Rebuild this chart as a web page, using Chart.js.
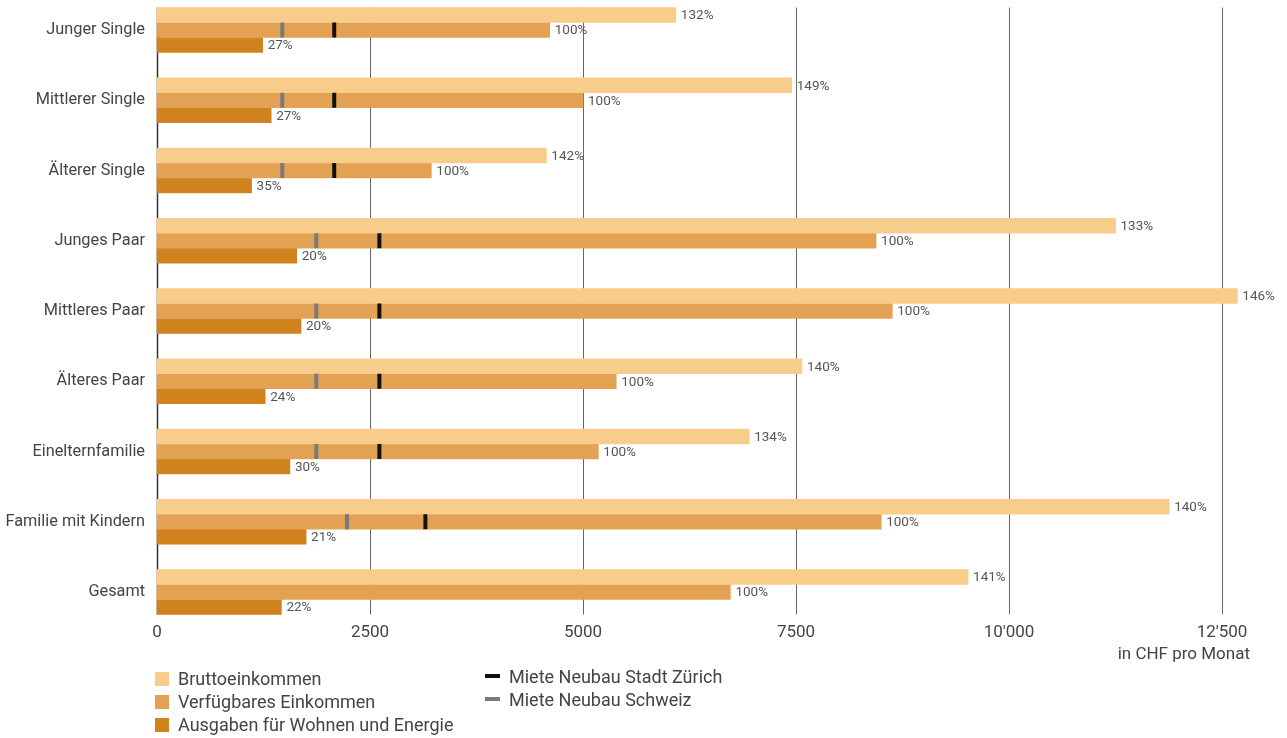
<!DOCTYPE html>
<html>
<head>
<meta charset="utf-8">
<script src="https://cdn.jsdelivr.net/npm/chart.js@4.4.1/dist/chart.umd.min.js"></script>
<style>
  body { margin: 0; background: #fff; font-family: Roboto, "Liberation Sans", sans-serif; color: #444; }
  #wrap { position: relative; width: 1287px; height: 738px; }
  .leg { position: absolute; font-size: 18px; line-height: 23px; }
  .leg div { height: 23px; white-space: nowrap; }
  .sq { display: inline-block; width: 14px; height: 14px; vertical-align: -1px; margin-right: 9px; }
  .ln { display: inline-block; width: 15px; height: 4px; vertical-align: 5px; margin-right: 9px; }
</style>
</head>
<body>
<div id="wrap">
  <canvas id="incomeChart" width="1287" height="738"></canvas>
  <div class="leg" style="left:155px; top:667px;">
    <div><span class="sq" style="background:#f8cc8a"></span>Bruttoeinkommen</div>
    <div><span class="sq" style="background:#e3a253"></span>Verfügbares Einkommen</div>
    <div><span class="sq" style="background:#d0821f"></span>Ausgaben für Wohnen und Energie</div>
  </div>
  <div class="leg" style="left:485px; top:665px;">
    <div><span class="ln" style="background:#111"></span>Miete Neubau Stadt Zürich</div>
    <div><span class="ln" style="background:#7a7a7a"></span>Miete Neubau Schweiz</div>
  </div>
</div>
<script>
// Haushaltstypen
var categories = ['Junger Single', 'Mittlerer Single', 'Älterer Single', 'Junges Paar', 'Mittleres Paar',
                  'Älteres Paar', 'Einelternfamilie', 'Familie mit Kindern', 'Gesamt'];

// CHF pro Monat
var brutto     = [6090, 7450, 4570, 11250, 12680, 7570, 6950, 11880, 9520];
var verfuegbar = [4610, 5000, 3220, 8440, 8630, 5390, 5180, 8500, 6730];
var ausgaben   = [1240, 1340, 1110, 1640, 1690, 1270, 1560, 1750, 1460];

// Prozent vom verfügbaren Einkommen
var bruttoPct   = [132, 149, 142, 133, 146, 140, 134, 140, 141];
var verfPct     = [100, 100, 100, 100, 100, 100, 100, 100, 100];
var ausgabenPct = [27, 27, 35, 20, 20, 24, 30, 21, 22];

// Mieten Neubau (Gesamt ohne Markierung)
var mieteZuerich = [2080, 2080, 2080, 2610, 2610, 2610, 2610, 3150, null];
var mieteSchweiz = [1470, 1470, 1470, 1870, 1870, 1870, 1870, 2230, null];

var tickLabels = ['0', '2500', '5000', '7500', "10'000", "12'500"];

var BAR = 15;

function markerPoints(values) {
    var pts = [];
    for (var i = 0; i < values.length; i++) {
        if (values[i] !== null) pts.push({ x: values[i], y: categories[i] });
    }
    return pts;
}

function markerDataset(label, values, color) {
    return {
        type: 'line',
        label: label,
        data: markerPoints(values),
        showLine: false,
        clip: false,
        pointStyle: 'line',
        rotation: 90,
        pointRadius: BAR / 2,
        pointHoverRadius: BAR / 2,
        pointBorderWidth: 4,
        borderColor: color,
        backgroundColor: color,
        order: -1
    };
}

// Gitterlinien hinter den Balken
var gridPlugin = {
    id: 'gridLines',
    beforeDatasetsDraw: function (chart) {
        var x = chart.scales.x, y = chart.scales.y, ctx = chart.ctx;
        var top = y.getPixelForValue(0) - BAR * 1.5;
        var bottom = y.getPixelForValue(categories.length - 1) + BAR * 1.5;
        ctx.save();
        for (var v = 0; v <= 12500; v += 2500) {
            var px = Math.round(x.getPixelForValue(v)) + 0.5;
            ctx.strokeStyle = v === 0 ? '#333' : '#666';
            ctx.lineWidth = v === 0 ? 1.5 : 1;
            ctx.beginPath();
            ctx.moveTo(px, top);
            ctx.lineTo(px, bottom);
            ctx.stroke();
        }
        ctx.restore();
    },
    afterDraw: function (chart) {
        var x = chart.scales.x, ctx = chart.ctx;
        ctx.save();
        ctx.font = '17px Roboto';
        ctx.fillStyle = '#444';
        ctx.textAlign = 'right';
        ctx.textBaseline = 'middle';
        ctx.fillText('in CHF pro Monat', x.right + 28, 655);
        ctx.restore();
    }
};

// Prozentwerte am Balkenende
var pctPlugin = {
    id: 'pctLabels',
    afterDatasetsDraw: function (chart) {
        var ctx = chart.ctx;
        var sets = [bruttoPct, verfPct, ausgabenPct];
        ctx.save();
        ctx.font = '13.5px Roboto';
        ctx.fillStyle = '#555';
        ctx.textAlign = 'left';
        ctx.textBaseline = 'middle';
        for (var d = 0; d < sets.length; d++) {
            var meta = chart.getDatasetMeta(d);
            meta.data.forEach(function (bar, i) {
                ctx.fillText(sets[d][i] + '%', bar.x + 5, bar.y + 1);
            });
        }
        ctx.restore();
    }
};

var ctx = document.getElementById('incomeChart');

var incomeChart = new Chart(ctx, {
    type: 'bar',
    data: {
        labels: categories,
        datasets: [
            {
                label: 'Bruttoeinkommen',
                data: brutto,
                backgroundColor: '#f8cc8a',
                clip: false
            },
            {
                label: 'Verfügbares Einkommen',
                data: verfuegbar,
                backgroundColor: '#e3a253',
                clip: false
            },
            {
                label: 'Ausgaben für Wohnen und Energie',
                data: ausgaben,
                backgroundColor: '#d0821f',
                clip: false
            },
            markerDataset('Miete Neubau Stadt Zürich', mieteZuerich, '#111'),
            markerDataset('Miete Neubau Schweiz', mieteSchweiz, '#7a7a7a')
        ]
    },
    options: {
        indexAxis: 'y',
        responsive: false,
        animation: false,
        events: [],
        barThickness: BAR,
        layout: { padding: { top: 30, right: 65, left: 0, bottom: 0 } },
        plugins: {
            legend: { display: false },
            tooltip: { enabled: false }
        },
        scales: {
            x: {
                type: 'linear',
                min: 0,
                max: 12500,
                grid: { display: false, drawTicks: false },
                border: { display: false },
                ticks: {
                    stepSize: 2500,
                    padding: 31,
                    color: '#444',
                    font: { family: 'Roboto', size: 17 },
                    callback: function (value, index) { return tickLabels[index]; }
                },
                afterFit: function (scale) { scale.height = 146; }
            },
            y: {
                type: 'category',
                offset: false,
                grid: { display: false, drawTicks: false },
                border: { display: false },
                ticks: {
                    padding: 12,
                    color: '#444',
                    font: { family: 'Roboto', size: 16.3 }
                },
                afterFit: function (scale) { scale.width = 157; }
            }
        }
    },
    plugins: [gridPlugin, pctPlugin]
});
</script>
</body>
</html>
